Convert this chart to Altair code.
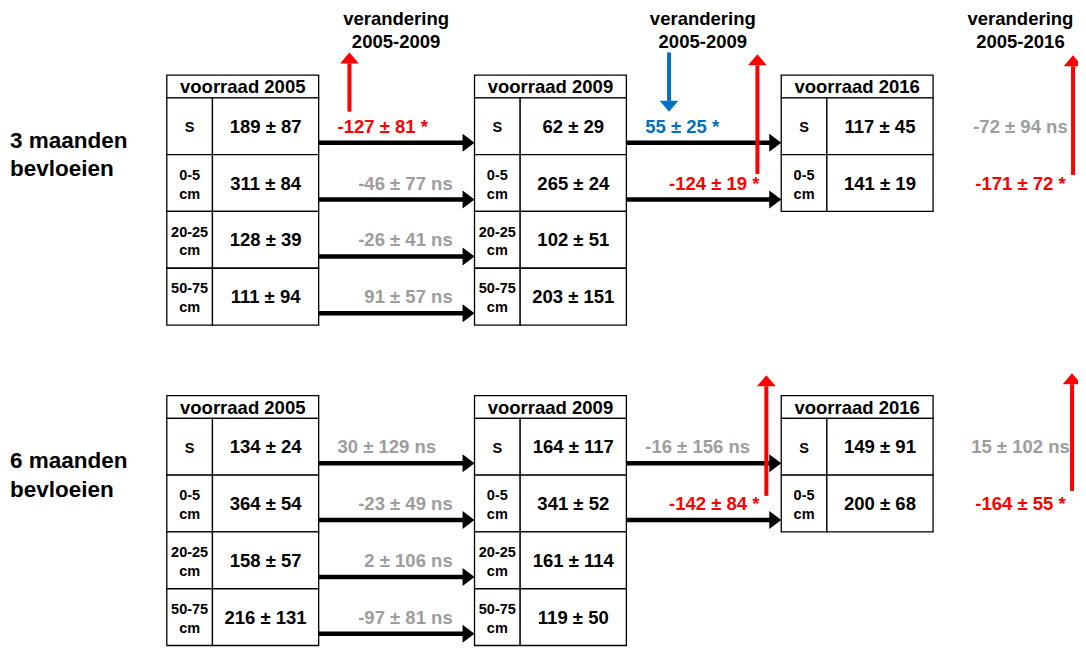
import altair as alt
import pandas as pd

# ---------------- data ----------------
groups = ["3 maanden\nbevloeien", "6 maanden\nbevloeien"]
years = ["voorraad 2005", "voorraad 2009", "voorraad 2016"]
layers = ["S", "0-5\ncm", "20-25\ncm", "50-75\ncm"]
change_headers = ["verandering\n2005-2009", "verandering\n2005-2009", "verandering\n2005-2016"]

stock_2005 = [["189 ± 87", "311 ± 84", "128 ± 39", "111 ± 94"],
              ["134 ± 24", "364 ± 54", "158 ± 57", "216 ± 131"]]
stock_2009 = [["62 ± 29", "265 ± 24", "102 ± 51", "203 ± 151"],
              ["164 ± 117", "341 ± 52", "161 ± 114", "119 ± 50"]]
stock_2016 = [["117 ± 45", "141 ± 19"],
              ["149 ± 91", "200 ± 68"]]

change_05_09 = [["-127 ± 81 *", "-46 ± 77 ns", "-26 ± 41 ns", "91 ± 57 ns"],
                ["30 ± 129 ns", "-23 ± 49 ns", "2 ± 106 ns", "-97 ± 81 ns"]]
change_09_16 = [["55 ± 25 *", "-124 ± 19 *"],
                ["-16 ± 156 ns", "-142 ± 84 *"]]
change_05_16 = [["-72 ± 94 ns", "-171 ± 72 *"],
                ["15 ± 102 ns", "-164 ± 55 *"]]

# ---------------- styles / layout ----------------
RED, BLUE, GREY, BLACK = "#ff0000", "#0070c0", "#9d9d9d", "#000000"
FONT = "Liberation Sans"

W, H = 1070, 639
XDOM = [8, 1086]
YDOM = [8, 655]

table_left = [168, 478, 787]
table_w = 153
label_w = 46
group_top = [76, 400.5]
head_h = 23
row_h = 57.5
header_x = [399, 708, 1028]
right_col_x = 1028


def change_color(txt):
    if txt.endswith("ns"):
        return GREY
    return BLUE if not txt.startswith("-") else RED


rects, texts, shafts, heads = [], [], [], []


def add_text(x, y, t, color=BLACK, size=18.5, align="center", lh=20):
    """y is the visual centre of the text block; lines placed on baselines."""
    lines = t.split("\n")
    n = len(lines)
    for i, ln in enumerate(lines):
        yc = y + (i - (n - 1) / 2) * lh
        texts.append(dict(x=x, y=yc + 0.36 * size, text=ln,
                          color=color, size=size, align=align))


# column headers for the changes
for hx, ht in zip(header_x, change_headers):
    add_text(hx, 30, ht, size=18.5, lh=23)

for g in range(2):
    top = group_top[g]
    add_text(10, top + 80, groups[g], size=22.5, align="left", lh=29)

    stocks = [stock_2005[g], stock_2009[g], stock_2016[g]]
    for t, (year, vals) in enumerate(zip(years, stocks)):
        L = table_left[t]
        R = L + table_w
        D = L + label_w
        rects.append(dict(x=L, x2=R, y=top, y2=top + head_h))
        add_text((L + R) / 2, top + head_h / 2, year, size=18.5)
        for r, v in enumerate(vals):
            ya = top + head_h + r * row_h
            yb = ya + row_h
            ym = (ya + yb) / 2
            rects.append(dict(x=L, x2=D, y=ya, y2=yb))
            rects.append(dict(x=D, x2=R, y=ya, y2=yb))
            add_text((L + D) / 2, ym + 1, layers[r], size=14.5, lh=19)
            add_text((D + R) / 2, ym, v, size=18.5)

    for t, changes in enumerate([change_05_09[g], change_09_16[g]]):
        A = table_left[t] + table_w
        B = table_left[t + 1]
        for r, c in enumerate(changes):
            ya = top + head_h + r * row_h
            yb = ya + row_h
            ym = (ya + yb) / 2
            ay = yb - 12
            shafts.append(dict(x=A, x2=B - 11, y=ay, y2=ay, color=BLACK))
            heads.append(dict(x=B - 6, y=ay, color=BLACK, dir="right"))
            if r == 0:
                add_text(A + 19, ym, c, color=change_color(c), align="left")
            else:
                add_text(B - 22, ym, c, color=change_color(c), align="right")

    for r, c in enumerate(change_05_16[g]):
        ya = top + head_h + r * row_h
        ym = ya + row_h / 2
        add_text(right_col_x, ym, c, color=change_color(c))

# vertical arrows marking significant changes (x, start y, tip y)
sig_arrows = [(352, 113, 53), (674, 53, 113), (763, 176, 55),
              (1081, 177, 56), (772, 502, 380), (1080, 497, 378)]
for x, y0, y1 in sig_arrows:
    up = y1 < y0
    col = RED if up else BLUE
    hl = 11
    tip_base = y1 + hl if up else y1 - hl
    shafts.append(dict(x=x, x2=x, y=y0, y2=tip_base, color=col))
    heads.append(dict(x=x, y=y1 + (5.5 if up else -5.5), color=col, dir="up" if up else "down"))

rect_df = pd.DataFrame(rects)
text_df = pd.DataFrame(texts)
shaft_df = pd.DataFrame(shafts)
head_df = pd.DataFrame(heads)

xs = alt.Scale(domain=XDOM, nice=False, zero=False)
ys = alt.Scale(domain=YDOM, nice=False, zero=False, reverse=True)

X = lambda f="x": alt.X(f"{f}:Q", scale=xs, axis=None)
Y = lambda f="y": alt.Y(f"{f}:Q", scale=ys, axis=None)

rect_layer = alt.Chart(rect_df).mark_rect(
    fill="white", stroke="black", strokeWidth=1.3
).encode(x=X(), x2="x2:Q", y=Y(), y2="y2:Q")

black_shafts = alt.Chart(shaft_df[shaft_df.color == BLACK]).mark_rule(
    strokeWidth=4.5
).encode(x=X(), x2="x2:Q", y=Y(), y2="y2:Q",
         color=alt.Color("color:N", scale=None))
col_shafts = alt.Chart(shaft_df[shaft_df.color != BLACK]).mark_rule(
    strokeWidth=4
).encode(x=X(), x2="x2:Q", y=Y(), y2="y2:Q",
         color=alt.Color("color:N", scale=None))

shapes = {
    "right": ("M-1,-1.5L1,0L-1,1.5Z", 144),
    "up": ("M-1.7,1L0,-1L1.7,1Z", 121),
    "down": ("M-1.7,-1L0,1L1.7,-1Z", 121),
}


def head_layer(d):
    path, sz = shapes[d]
    return alt.Chart(head_df[head_df.dir == d]).mark_point(
        shape=path, size=sz, filled=True, opacity=1, strokeWidth=0
    ).encode(x=X(), y=Y(), color=alt.Color("color:N", scale=None))


text_layers = []
for al, sub in text_df.groupby("align"):
    text_layers.append(
        alt.Chart(sub).mark_text(
            align=al, baseline="alphabetic", font=FONT, fontWeight="bold"
        ).encode(x=X(), y=Y(), text="text:N",
                 color=alt.Color("color:N", scale=None),
                 size=alt.Size("size:Q", scale=None))
    )

chart = alt.layer(
    rect_layer, black_shafts, head_layer("right"), *text_layers,
    col_shafts, head_layer("up"), head_layer("down")
).properties(
    width=W, height=H, padding=0, autosize="none", background="white"
).configure_view(stroke=None)

chart.save("out.html", embed_options={"renderer": "svg", "actions": False})
